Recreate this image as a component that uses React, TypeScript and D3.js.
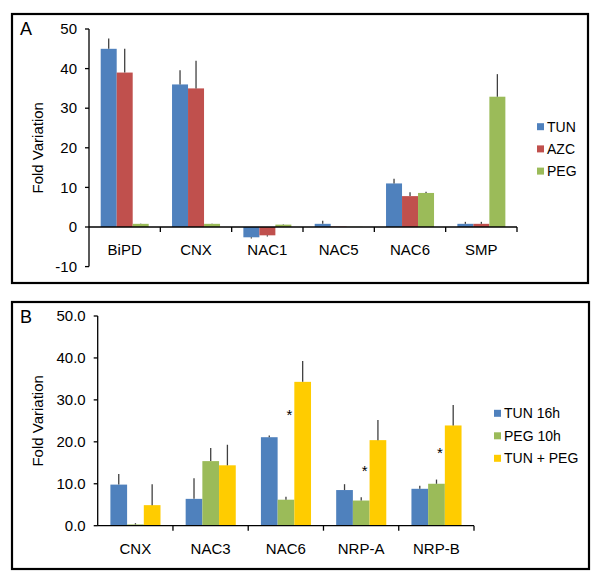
import React from "react";
import * as d3 from "d3";

// Panel A data
const catsA = ["BiPD", "CNX", "NAC1", "NAC5", "NAC6", "SMP"];
const seriesA = ["TUN", "AZC", "PEG"];
const colorsA = ["#4F81BD", "#C0504D", "#9BBB59"];
const tunA = [45, 36, -2.6, 0.8, 11, 0.8];
const azcA = [39, 35, -2.1, 0.1, 7.8, 0.8];
const pegA = [0.8, 0.8, 0.6, 0.05, 8.6, 32.9];
const tunErrA = [2.6, 3.6, 0.3, 0.8, 1.2, 0.5];
const azcErrA = [6, 7, 0.3, 0, 1.0, 0.5];
const pegErrA = [0.1, 0.1, 0.1, 0, 0.3, 5.7];
const ticksA = [-10, 0, 10, 20, 30, 40, 50];

// Panel B data
const catsB = ["CNX", "NAC3", "NAC6", "NRP-A", "NRP-B"];
const seriesB = ["TUN 16h", "PEG 10h", "TUN + PEG"];
const colorsB = ["#4F81BD", "#9BBB59", "#FFCC00"];
const tunB = [9.8, 6.4, 21.1, 8.5, 8.8];
const pegB = [0.3, 15.4, 6.2, 6.0, 10.0];
const bothB = [4.9, 14.4, 34.3, 20.4, 23.9];
const tunErrB = [2.5, 4.9, 0.4, 1.4, 0.7];
const pegErrB = [0.3, 3.1, 0.7, 0.8, 1.0];
const bothErrB = [5.0, 4.9, 5.0, 4.8, 4.9];
const ticksB = [0, 10, 20, 30, 40, 50];
const starCats = ["NAC6", "NRP-A", "NRP-B"];
const starVals = [27.2, 13.9, 18.1];

const FONT = "Liberation Sans, Arial, sans-serif";
const ERR = "#404040";
const FS = 15;
const LFS = 14;

type PanelProps = {
  letter: string;
  box: [number, number, number, number];
  cats: string[];
  series: string[];
  colors: string[];
  values: number[][];
  errs: number[][];
  ticks: number[];
  tickFmt: (v: number) => string;
  yDomain: [number, number];
  yRange: [number, number];
  xRange: [number, number];
  groupPad: number;
  barW: number;
  legendX: number;
  legendY: number;
  legendStep: number;
  labelY: number;
  letterPos: [number, number];
  stars?: { cat: string; v: number }[];
};

function Panel(p: PanelProps) {
  const y = d3.scaleLinear().domain(p.yDomain).range(p.yRange);
  const x = d3.scaleBand<string>().domain(p.cats).range(p.xRange);
  const x0 = p.xRange[0];
  const y0 = y(0);
  const bw = x.bandwidth();
  const inner = d3
    .scaleBand<string>()
    .domain(p.series)
    .range([p.groupPad, p.groupPad + p.barW * p.series.length]);
  const [bx, by, bwBox, bhBox] = p.box;
  return (
    <g>
      <rect x={bx} y={by} width={bwBox} height={bhBox} fill="none" stroke="#000" strokeWidth={2.2} />
      <text x={p.letterPos[0]} y={p.letterPos[1]} fontSize={18} fontFamily={FONT} fill="#000">
        {p.letter}
      </text>
      {/* y axis */}
      <line x1={x0} x2={x0} y1={y(p.yDomain[0])} y2={y(p.yDomain[1])} stroke="#000" strokeWidth={1.3} />
      {p.ticks.map((t) => (
        <g key={t}>
          <line x1={x0 - 4} x2={x0} y1={y(t)} y2={y(t)} stroke="#000" strokeWidth={1.3} />
          <text x={x0 - 12} y={y(t)} dy="0.35em" textAnchor="end" fontSize={FS} fontFamily={FONT} fill="#000">
            {p.tickFmt(t)}
          </text>
        </g>
      ))}
      <text
        transform={`translate(${38},${(y(p.yDomain[0]) + y(p.yDomain[1])) / 2}) rotate(-90)`}
        textAnchor="middle"
        dy="0.35em"
        fontSize={FS}
        fontFamily={FONT}
        fill="#000"
      >
        Fold Variation
      </text>
      {/* bars */}
      {p.cats.map((c, ci) => (
        <g key={c}>
          {p.series.map((s, si) => {
            const v = p.values[si][ci];
            const e = p.errs[si][ci];
            const bx0 = (x(c) as number) + (inner(s) as number);
            const top = Math.min(y(v), y0);
            const h = Math.abs(y(v) - y0);
            const cx = bx0 + p.barW / 2;
            const ey = v >= 0 ? y(v + e) : y(v - e);
            return (
              <g key={s}>
                <rect x={bx0} y={top} width={p.barW} height={h} fill={p.colors[si]} />
                {e > 0 && (
                  <line x1={cx} x2={cx} y1={y(v)} y2={ey} stroke={ERR} strokeWidth={1.3} />
                )}
              </g>
            );
          })}
        </g>
      ))}
      {/* x axis */}
      <line x1={x0} x2={p.xRange[1]} y1={y0} y2={y0} stroke="#000" strokeWidth={1.3} />
      {p.cats.map((c) => (
        <line
          key={"t" + c}
          x1={(x(c) as number) + bw}
          x2={(x(c) as number) + bw}
          y1={y0}
          y2={y0 + 5}
          stroke="#000"
          strokeWidth={1.3}
        />
      ))}
      {p.cats.map((c) => (
        <text
          key={"l" + c}
          x={(x(c) as number) + bw / 2}
          y={p.labelY}
          dy="0.35em"
          textAnchor="middle"
          fontSize={FS}
          fontFamily={FONT}
          fill="#000"
        >
          {c}
        </text>
      ))}
      {p.stars &&
        p.stars.map((st) => (
          <text
            key={"s" + st.cat}
            x={(x(st.cat) as number) + (inner(p.series[2]) as number) - 5}
            y={y(st.v)}
            dy="0.55em"
            textAnchor="middle"
            fontSize={15}
            fontFamily={FONT}
            fill="#000"
          >
            *
          </text>
        ))}
      {/* legend */}
      {p.series.map((s, i) => (
        <g key={"lg" + s}>
          <rect x={p.legendX} y={p.legendY + i * p.legendStep - 3.5} width={7} height={7} fill={p.colors[i]} />
          <text
            x={p.legendX + 10}
            y={p.legendY + i * p.legendStep}
            dy="0.35em"
            fontSize={LFS}
            fontFamily={FONT}
            fill="#000"
          >
            {s}
          </text>
        </g>
      ))}
    </g>
  );
}

export default function App() {
  return (
    <svg width={600} height={582} style={{ display: "block", position: "absolute", left: 0, top: 0 }}>
      <rect width={600} height={582} fill="#fff" />
      <Panel
        letter="A"
        box={[12, 14, 576, 269]}
        cats={catsA}
        series={seriesA}
        colors={colorsA}
        values={[tunA, azcA, pegA]}
        errs={[tunErrA, azcErrA, pegErrA]}
        ticks={ticksA}
        tickFmt={(v) => String(v)}
        yDomain={[-10, 50]}
        yRange={[266.6, 29]}
        xRange={[89, 517]}
        groupPad={11.7}
        barW={16}
        legendX={537}
        legendY={126.7}
        legendStep={22.2}
        labelY={250}
        letterPos={[20, 35]}
      />
      <Panel
        letter="B"
        box={[12, 302, 577, 267]}
        cats={catsB}
        series={seriesB}
        colors={colorsB}
        values={[tunB, pegB, bothB]}
        errs={[tunErrB, pegErrB, bothErrB]}
        ticks={ticksB}
        tickFmt={(v) => v.toFixed(1)}
        yDomain={[0, 50]}
        yRange={[525.7, 316]}
        xRange={[97.7, 474]}
        groupPad={12.7}
        barW={16.7}
        legendX={494}
        legendY={413.3}
        legendStep={22.5}
        labelY={548.3}
        letterPos={[20, 323]}
        stars={starCats.map((c, i) => ({ cat: c, v: starVals[i] }))}
      />
    </svg>
  );
}
